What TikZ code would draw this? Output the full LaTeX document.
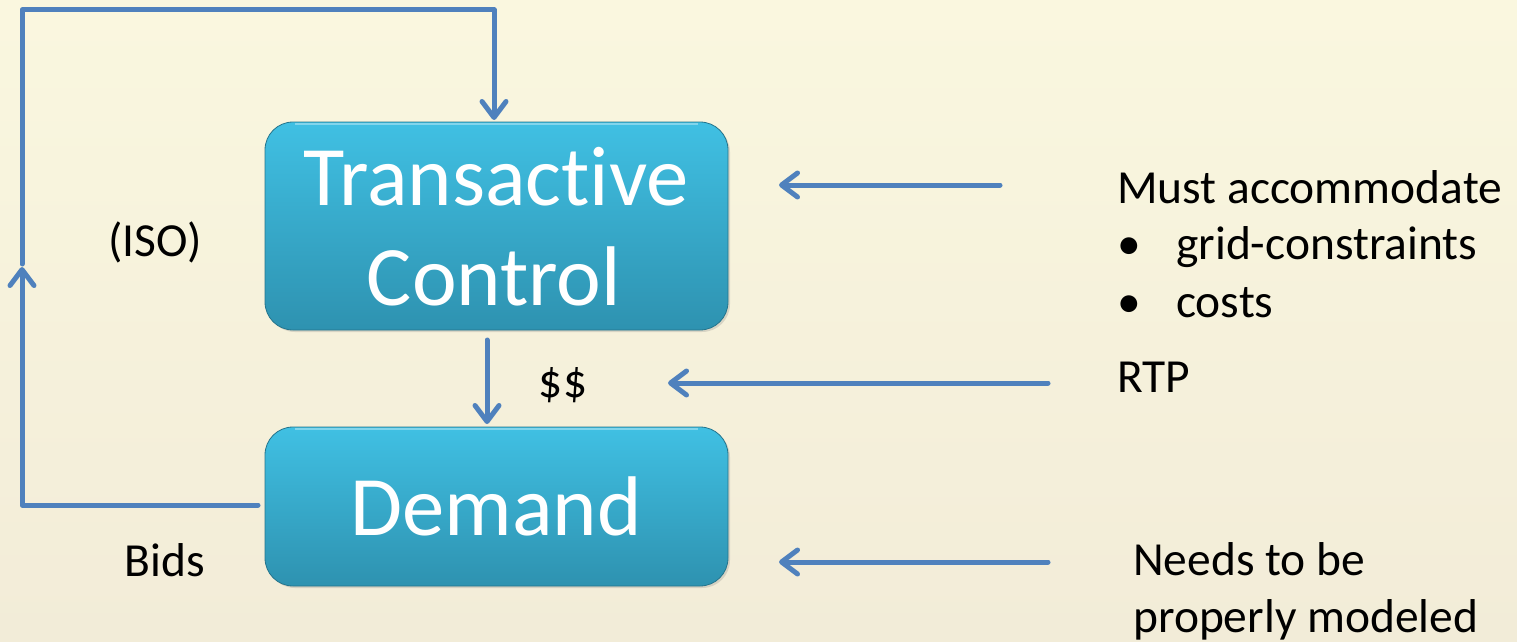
\documentclass[tikz,border=0pt]{standalone}
\usepackage{fontspec}
\setmainfont{Carlito}[Ligatures=NoCommon]
\usetikzlibrary{arrows.meta,shadows}
\definecolor{flow}{HTML}{4F81BD}
\definecolor{boxtop}{HTML}{40C0E3}
\definecolor{boxbot}{HTML}{2E92B0}
\definecolor{bgtop}{HTML}{FAF7DF}
\definecolor{bgbot}{HTML}{F2ECD8}
\tikzset{
  flowline/.style={draw=flow, line width=3.75pt, line cap=round, line join=round},
  flowarrow/.style={flowline, -{Straight Barb[length=12pt,width=18pt,round]}},
  block/.style={rounded corners=21pt, top color=boxtop, bottom color=boxbot,
    draw=boxbot!80!black, line width=0.6pt,
    drop shadow={opacity=0.25, shadow xshift=1.5pt, shadow yshift=-1.5pt}},
  rim/.style={draw=white, opacity=0.35, line width=1.5pt},
  bigtext/.style={text=white, font=\fontsize{63.5pt}{72pt}\selectfont},
  small/.style={text=black, font=\fontsize{35.6pt}{43pt}\selectfont, inner sep=0pt}
}
\begin{document}
\begin{tikzpicture}[x=0.75pt, y=-0.75pt]
  % page background
  \shade[top color=bgtop, bottom color=bgbot] (0,0) rectangle (1517,642);
  \useasboundingbox (0,0) rectangle (1517,642);

  % the two blocks
  \path[block] (265,122) rectangle (728,330);
  \draw[rim] (295,124) -- (698,124);
  \path[block] (265,427) rectangle (728,586);
  \draw[rim] (295,429) -- (698,429);
  \node[inner sep=0pt, minimum width=463*0.75pt, minimum height=208*0.75pt] (tc) at (496.5,226) {};
  \node[inner sep=0pt, minimum width=463*0.75pt, minimum height=159*0.75pt] (dem) at (496.5,506.5) {};
  \node[bigtext, anchor=base, inner sep=0pt] (tcl1) at (496,205) {Transactive};
  \node[bigtext, anchor=base, inner sep=0pt] (tcl2) at (494,305) {Control};
  \node[bigtext, anchor=base, inner sep=0pt] (deml) at (496,535) {Demand};

  % feedback loop on the left
  \coordinate (bidsend) at (22,267);
  \coordinate (isostart) at (22,264);
  \draw[flowarrow] (258,505) -- (22,505) -- (bidsend);
  \draw[flowarrow] (isostart) -- (22,10) -- (494,10) -- (494,120);

  % price signal down to demand
  \draw[flowarrow] (487,340) -- (487,424);

  % inputs from the right
  \coordinate (in1) at (1000,185);
  \coordinate (in2) at (1048,383);
  \coordinate (in3) at (1048,562);
  \draw[flowarrow] (in1) -- (779,185);
  \draw[flowarrow] (in2) -- (668,383);
  \draw[flowarrow] (in3) -- (779,562);

  % labels
  \node[small, anchor=base] (iso) at (155,256) {(ISO)};
  \node[small, anchor=base] (bids) at (165,576) {Bids};
  \node[small, anchor=base] (money) at (563,397) {\$\$};
  \node[small, anchor=base west] (must) at (1117,203) {Must accommodate};
  \node[small, anchor=base west] (b1) at (1117,259) {•};
  \node[small, anchor=base west] (grid) at (1176,259) {grid-constraints};
  \node[small, anchor=base west] (b2) at (1117,317) {•};
  \node[small, anchor=base west] (costs) at (1176,317) {costs};
  \node[small, anchor=base west] (rtp) at (1117,392) {RTP};
  \node[small, anchor=base west] (needs) at (1133,575) {Needs to be};
  \node[small, anchor=base west] (model) at (1133,632) {properly modeled};
\end{tikzpicture}
\end{document}
